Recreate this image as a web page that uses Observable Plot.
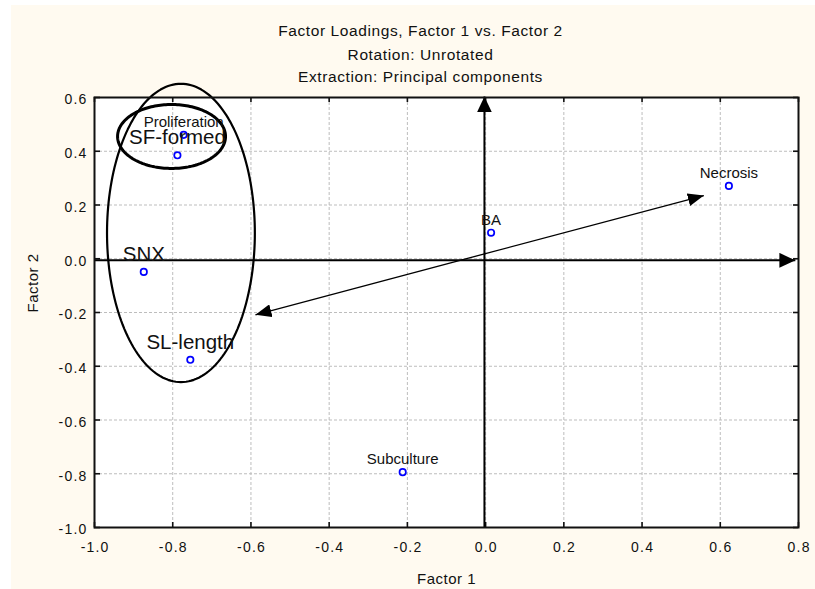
<!DOCTYPE html>
<html><head><meta charset="utf-8">
<script src="https://cdn.jsdelivr.net/npm/d3@7"></script>
<script src="https://cdn.jsdelivr.net/npm/@observablehq/plot@0.6"></script>
<style>
html,body{margin:0;padding:0;background:#fff;}
#wrap{position:relative;width:815px;height:589px;background:#fff;overflow:hidden}
#panel{position:absolute;left:11px;top:5px;right:0;bottom:0;background:#fffaf0}
#chart{position:absolute;left:0;top:0}
</style></head><body>
<div id="wrap"><div id="panel"></div><div id="chart"></div></div>
<script>
// ---- data ----
const variables = ["Proliferation", "SF-formed", "SNX", "SL-length", "BA", "Necrosis", "Subculture"];
const factor1 = [-0.772, -0.788, -0.874, -0.755, 0.014, 0.622, -0.212];
const factor2 = [0.461, 0.385, -0.049, -0.376, 0.097, 0.271, -0.794];
const highlighted = ["SF-formed", "SNX", "SL-length"];
const xTicks = [-1.0, -0.8, -0.6, -0.4, -0.2, 0.0, 0.2, 0.4, 0.6, 0.8];
const yTicks = [-1.0, -0.8, -0.6, -0.4, -0.2, 0.0, 0.2, 0.4, 0.6];
const titleLines = ["Factor Loadings, Factor 1 vs. Factor 2", "Rotation: Unrotated", "Extraction: Principal components"];
const xLabel = "Factor 1";
const yLabel = "Factor 2";
// hand-drawn annotations (data units)
const axisArrowX1 = [-1.0, -0.003], axisArrowY1 = [-0.006, -1.0];
const axisArrowX2 = [0.792, -0.003], axisArrowY2 = [-0.006, 0.604];
const loadArrowX = [-0.5885, 0.558], loadArrowY = [-0.2085, 0.2353];
const ellipseCx = [-0.803, -0.779], ellipseCy = [0.455, 0.096];
const ellipseRx = [0.138, 0.189], ellipseRy = [0.119, 0.555];

// ---- build tables ----
const rows = variables.map((v, i) => ({name: v, f1: factor1[i], f2: factor2[i]}));
const smallRows = rows.filter(d => !highlighted.includes(d.name));
const bigRows = rows.filter(d => highlighted.includes(d.name));
const axisArrows = axisArrowX1.map((v, i) => ({x1: v, y1: axisArrowY1[i], x2: axisArrowX2[i], y2: axisArrowY2[i]}));
const loadArrow = [{x1: loadArrowX[0], y1: loadArrowY[0], x2: loadArrowX[1], y2: loadArrowY[1]}];
const ellipsePath = (k) => d3.range(0, 180).map(j => {
  const a = j / 180 * 2 * Math.PI;
  return {x: ellipseCx[k] + ellipseRx[k] * Math.cos(a), y: ellipseCy[k] + ellipseRy[k] * Math.sin(a)};
});

function arrowHead(len, half) {
  return (color, context) => {
    const doc = (context && context.document) || document;
    const ns = "http://www.w3.org/2000/svg";
    const m = doc.createElementNS(ns, "marker");
    m.setAttribute("viewBox", `${-len} ${-half} ${len} ${2 * half}`);
    m.setAttribute("markerWidth", len);
    m.setAttribute("markerHeight", 2 * half);
    m.setAttribute("markerUnits", "userSpaceOnUse");
    m.setAttribute("refX", 0);
    m.setAttribute("refY", 0);
    m.setAttribute("orient", "auto-start-reverse");
    const p = doc.createElementNS(ns, "path");
    p.setAttribute("d", `M0,0L${-len},${-half}L${-len},${half}Z`);
    p.setAttribute("fill", color);
    p.setAttribute("stroke", "none");
    m.appendChild(p);
    return m;
  };
}

const W = 815, H = 589, mL = 94, mR = 17, mT = 97, mB = 62;
const frameW = W - mL - mR, frameH = H - mT - mB;
const fmt = d => d.toFixed(1);
const gridStyle = {stroke: "#bdbdbd", strokeOpacity: 1, strokeWidth: 1, strokeDasharray: "3,2"};
const tickStyle = {stroke: "#111", strokeWidth: 1.6};

const plot = Plot.plot({
  width: W, height: H,
  marginLeft: mL, marginRight: mR, marginTop: mT, marginBottom: mB,
  style: {background: "transparent", fontFamily: "'Liberation Sans', Arial, sans-serif", color: "#111", overflow: "visible"},
  x: {domain: [-1, 0.8]},
  y: {domain: [-1, 0.6]},
  marks: [
    Plot.frame({fill: "white", stroke: null}),
    Plot.gridX(xTicks, gridStyle),
    Plot.gridY(yTicks, gridStyle),
    Plot.axisX(xTicks, {tickSize: 0, tickPadding: 15, dx: 0.6, tickFormat: fmt, fontSize: 14, label: null}),
    Plot.axisY(yTicks, {tickSize: 0, tickPadding: 7, dy: 2.3, tickFormat: fmt, fontSize: 14, label: null}),
    // inward ticks on all four sides
    Plot.tickX(xTicks, {x: d => d, insetTop: frameH - 5, ...tickStyle}),
    Plot.tickX(xTicks, {x: d => d, insetBottom: frameH - 5, ...tickStyle}),
    Plot.tickY(yTicks, {y: d => d, insetRight: frameW - 6, ...tickStyle}),
    Plot.tickY(yTicks, {y: d => d, insetLeft: frameW - 5, ...tickStyle}),
    // axis arrows
    Plot.link(axisArrows, {x1: "x1", y1: "y1", x2: "x2", y2: "y2", stroke: "#000", strokeWidth: 2, markerEnd: arrowHead(16, 7.5)}),
    // loading arrow (double-headed)
    Plot.link(loadArrow, {x1: "x1", y1: "y1", x2: "x2", y2: "y2", stroke: "#000", strokeWidth: 1.3,
      markerStart: arrowHead(16, 6.5), markerEnd: arrowHead(16, 6.5)}),
    // ellipses
    Plot.line(ellipsePath(0), {x: "x", y: "y", curve: "linear-closed", stroke: "#000", strokeWidth: 3}),
    Plot.line(ellipsePath(1), {x: "x", y: "y", curve: "linear-closed", stroke: "#000", strokeWidth: 2.2}),
    // points
    Plot.dot(rows, {x: "f1", y: "f2", r: 3.2, stroke: "#0000ff", strokeWidth: 1.7, fill: "none"}),
    Plot.text(smallRows, {x: "f1", y: "f2", text: "name", lineAnchor: "bottom", dy: -8, fontSize: 15, fill: "#111"}),
    Plot.text(bigRows, {x: "f1", y: "f2", text: "name", lineAnchor: "bottom", dy: -11, fontSize: 20.5, fill: "#111"}),
    Plot.frame({stroke: "#111", strokeWidth: 2}),
    // titles
    Plot.text([titleLines[0]], {text: d => d, frameAnchor: "top", dx: -26, dy: -62, lineAnchor: "bottom", fontSize: 15.5, fill: "#111"}),
    Plot.text([titleLines[1]], {text: d => d, frameAnchor: "top", dx: -26, dy: -37.5, lineAnchor: "bottom", fontSize: 15.5, fill: "#111"}),
    Plot.text([titleLines[2]], {text: d => d, frameAnchor: "top", dx: -26, dy: -15.5, lineAnchor: "bottom", fontSize: 15.5, fill: "#111"}),
    Plot.text([xLabel], {text: d => d, frameAnchor: "bottom", dy: 56, lineAnchor: "bottom", fontSize: 15, fill: "#111"}),
    Plot.text([yLabel], {text: d => d, frameAnchor: "left", dx: -56.5, rotate: -90, lineAnchor: "bottom", fontSize: 15, fill: "#111"})
  ]
});

const sel = d3.select(plot);
sel.selectAll('g[aria-label="x-axis tick label"] text, g[aria-label="y-axis tick label"] text').style("letter-spacing", "1.2px");
sel.selectAll("text").each(function () {
  const t = this.textContent;
  if (titleLines.includes(t)) this.style.letterSpacing = "0.6px";
  if (t === xLabel || t === yLabel) this.style.letterSpacing = "0.5px";
});
document.getElementById("chart").appendChild(plot);
</script>
</body></html>
